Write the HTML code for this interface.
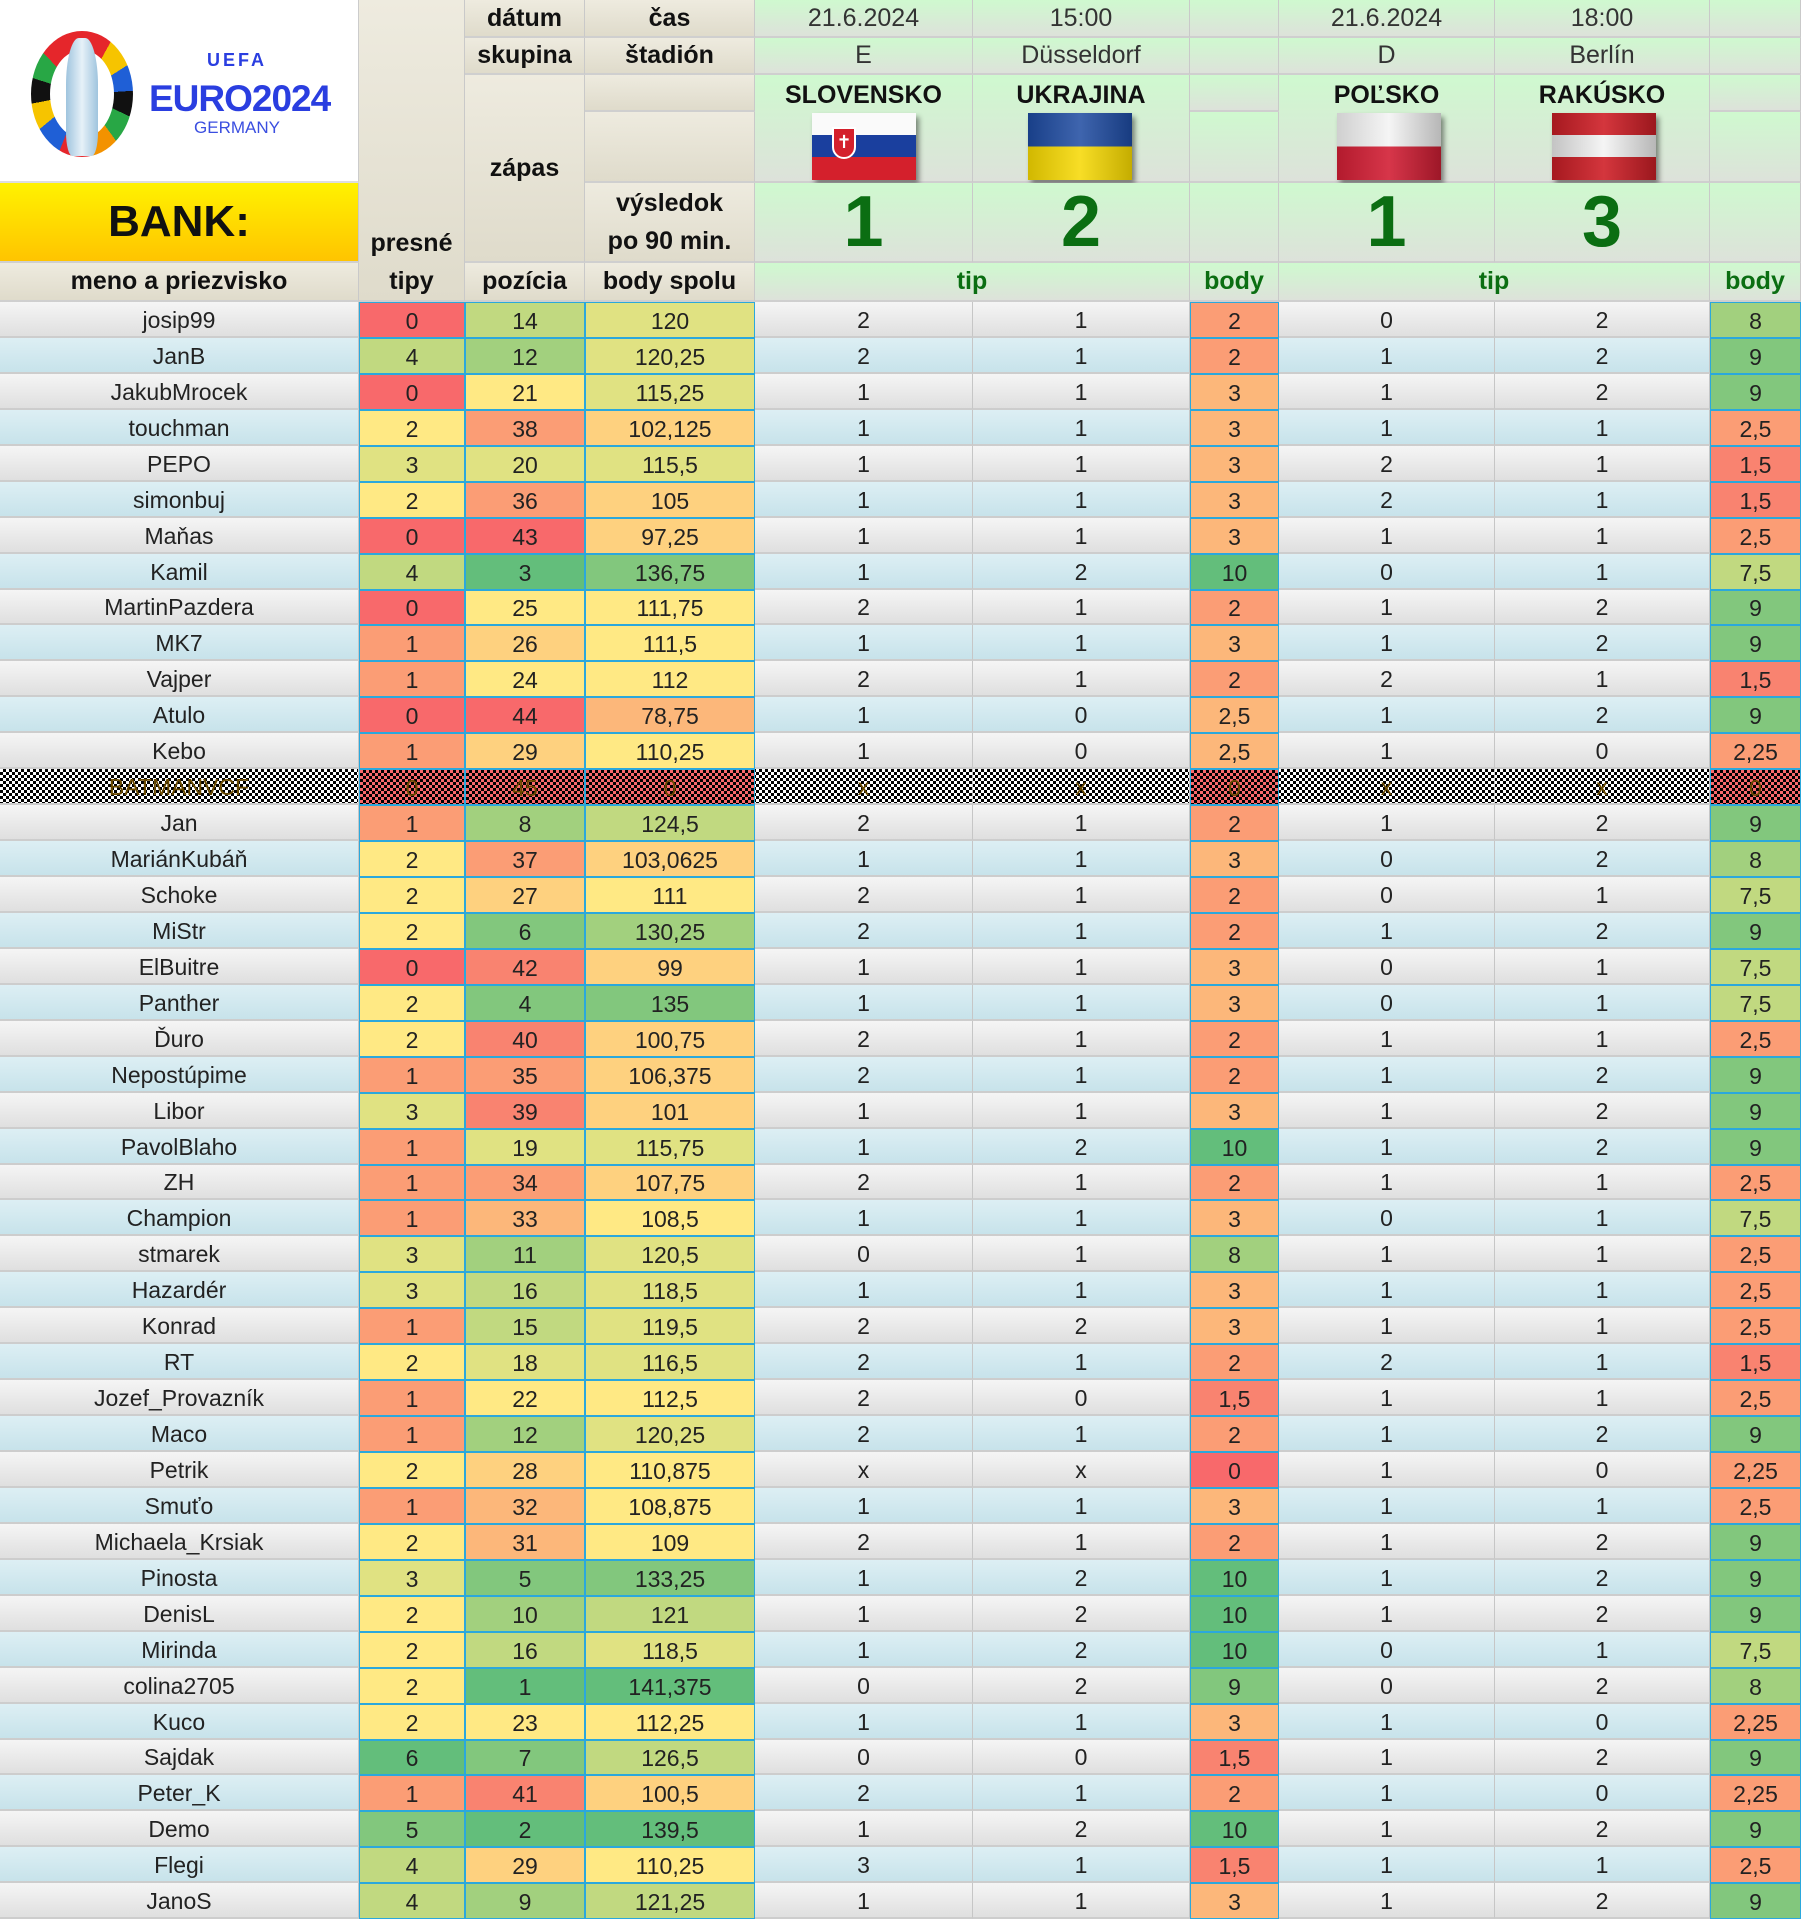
<!DOCTYPE html>
<html><head><meta charset="utf-8">
<style>
*{box-sizing:border-box;margin:0;padding:0}
body{width:1801px;height:1920px;overflow:hidden;background:#fff;font-family:"Liberation Sans Narrow","Liberation Sans",sans-serif;color:#222}
.h{position:absolute;display:flex;align-items:center;justify-content:center;text-align:center;border-right:1px solid #c9c9c9;border-bottom:2px solid #cfcfcf;font-weight:bold;font-size:25px;color:#111}
.bg{background:linear-gradient(#eeebdf,#dfdbcb)}
.gr{background:linear-gradient(#cff9cf,#dde2da)}
.nb{font-weight:normal;color:#333}
.team{align-items:flex-start;padding-top:6px;font-size:25px;color:#111}
.score{font-size:72px;color:#0b6e12}
.gt{color:#0b6e12;font-size:25px}
.flag{position:absolute;width:104px;height:67px;box-shadow:3px 4px 5px rgba(0,0,0,.45)}
#rows{position:absolute;left:0;top:302px;width:1801px}
.r{display:flex;height:35.95px}
.r>div{height:100%;display:flex;align-items:center;justify-content:center;font-size:23px;padding-top:3px;border-right:1px solid #c6c6c6;border-bottom:2px solid #cdcdcd}
.o{background:linear-gradient(#f5f5f5,#dedede)}
.e{background:linear-gradient(#ddeff4,#c6e2ea)}
.r>div:nth-child(1){width:359px}
.r>div:nth-child(2){width:106px}
.r>div:nth-child(3){width:120px}
.r>div:nth-child(4){width:170px}
.r>div:nth-child(5){width:218px}
.r>div:nth-child(6){width:217px}
.r>div:nth-child(7){width:89px}
.r>div:nth-child(8){width:216px}
.r>div:nth-child(9){width:215px}
.r>div:nth-child(10){width:91px}
.r>div.k{border:1.5px solid #2ba8dc}
.k0{background:#f8696b}.k1{background:#f98370}.k2{background:#fb9d75}.k3{background:#fcb77a}.k4{background:#fed17f}.k5{background:#ffe984}.k6{background:#e0e282}.k7{background:#c1d980}.k8{background:#a2d07e}.k9{background:#82c77d}.k10{background:#63be7b}
.hid{background:repeating-conic-gradient(#000 0 25%,#fff 0 50%) 0 0/6px 6px}
.hid>div.k{background:repeating-conic-gradient(#000 0 25%,transparent 0 50%) 0 0/6px 6px,#f8696b}
.hid>div{color:#6a4a00}
</style></head><body>

<div style="position:absolute;left:0;top:0;width:359px;height:183px;background:#fff;border-right:1px solid #ccc;border-bottom:2px solid #ddd">
  <div style="position:absolute;left:31px;top:31px;width:102px;height:126px;border-radius:50%;background:conic-gradient(#e5262b 0 8%,#f6c400 0 16%,#1f5fd6 0 24%,#111 0 32%,#28a745 0 40%,#f39200 0 48%,#e5262b 0 56%,#1f5fd6 0 64%,#f6c400 0 72%,#111 0 80%,#28a745 0 88%,#e5262b 0 100%);"></div>
  <div style="position:absolute;left:50px;top:50px;width:64px;height:88px;border-radius:50%;background:#fff"></div>
  <div style="position:absolute;left:66px;top:38px;width:32px;height:118px;border-radius:40% 40% 20% 20%;background:linear-gradient(90deg,#9fc4de,#e6f1f8,#9fc4de)"></div>
  <div style="position:absolute;left:152px;top:50px;width:170px;text-align:center;font:bold 18px 'Liberation Sans',sans-serif;color:#2a3ee0;letter-spacing:3px">UEFA</div>
  <div style="position:absolute;left:149px;top:78px;width:180px;text-align:left;font:bold 37px 'Liberation Sans Narrow','Liberation Sans',sans-serif;color:#2a3ee0;letter-spacing:-1px">EURO2024</div>
  <div style="position:absolute;left:152px;top:118px;width:170px;text-align:center;font:17px 'Liberation Sans Narrow','Liberation Sans',sans-serif;color:#3a4ee0">GERMANY</div>
</div>
<div class="h" style="left:0;top:183px;width:359px;height:80px;background:linear-gradient(#fff200,#ffc400);font-size:44px">BANK:</div>
<div class="h bg" style="left:0;top:263px;width:359px;height:39px">meno a priezvisko</div>

<div class="h bg" style="left:359px;top:0;width:106px;height:302px;flex-direction:column;justify-content:flex-end;padding-bottom:0px;line-height:38px">presné<br>tipy</div>

<div class="h bg" style="left:465px;top:0;width:120px;height:38px">dátum</div>
<div class="h bg" style="left:465px;top:38px;width:120px;height:37px">skupina</div>
<div class="h bg" style="left:465px;top:75px;width:120px;height:188px">zápas</div>
<div class="h bg" style="left:465px;top:263px;width:120px;height:39px">pozícia</div>

<div class="h bg" style="left:585px;top:0;width:170px;height:38px">čas</div>
<div class="h bg" style="left:585px;top:38px;width:170px;height:37px">štadión</div>
<div class="h bg" style="left:585px;top:75px;width:170px;height:37px"></div>
<div class="h bg" style="left:585px;top:112px;width:170px;height:71px"></div>
<div class="h bg" style="left:585px;top:183px;width:170px;height:80px;flex-direction:column;line-height:38px">výsledok<br>po 90 min.</div>
<div class="h bg" style="left:585px;top:263px;width:170px;height:39px">body spolu</div>

<div class="h gr nb" style="left:755px;top:0;width:218px;height:38px">21.6.2024</div>
<div class="h gr nb" style="left:973px;top:0;width:217px;height:38px">15:00</div>
<div class="h gr nb" style="left:1190px;top:0;width:89px;height:38px"></div>
<div class="h gr nb" style="left:1279px;top:0;width:216px;height:38px">21.6.2024</div>
<div class="h gr nb" style="left:1495px;top:0;width:215px;height:38px">18:00</div>
<div class="h gr nb" style="left:1710px;top:0;width:91px;height:38px"></div>

<div class="h gr nb" style="left:755px;top:38px;width:218px;height:37px">E</div>
<div class="h gr nb" style="left:973px;top:38px;width:217px;height:37px">Düsseldorf</div>
<div class="h gr nb" style="left:1190px;top:38px;width:89px;height:37px"></div>
<div class="h gr nb" style="left:1279px;top:38px;width:216px;height:37px">D</div>
<div class="h gr nb" style="left:1495px;top:38px;width:215px;height:37px">Berlín</div>
<div class="h gr nb" style="left:1710px;top:38px;width:91px;height:37px"></div>

<div class="h gr team" style="left:755px;top:75px;width:218px;height:108px">SLOVENSKO</div>
<div class="h gr team" style="left:973px;top:75px;width:217px;height:108px">UKRAJINA</div>
<div class="h gr" style="left:1190px;top:75px;width:89px;height:37px"></div>
<div class="h gr" style="left:1190px;top:112px;width:89px;height:71px"></div>
<div class="h gr team" style="left:1279px;top:75px;width:216px;height:108px">POĽSKO</div>
<div class="h gr team" style="left:1495px;top:75px;width:215px;height:108px">RAKÚSKO</div>
<div class="h gr" style="left:1710px;top:75px;width:91px;height:37px"></div>
<div class="h gr" style="left:1710px;top:112px;width:91px;height:71px"></div>

<div class="flag" style="left:812px;top:113px;background:linear-gradient(#fafafa 0 33%,#1a3f9e 33% 66%,#d4202c 66%)">
  <div style="position:absolute;left:20px;top:14px;width:24px;height:32px;background:#d4202c;border:2px solid #fff;border-radius:0 0 12px 12px;color:#fff;font-size:18px;line-height:26px;text-align:center">✝</div>
</div>
<div class="flag" style="left:1028px;top:113px;background:linear-gradient(90deg,rgba(0,0,0,.15),rgba(255,255,255,.15),rgba(0,0,0,.2)),linear-gradient(#1d4aa0 0 50%,#f6d800 50%)"></div>
<div class="flag" style="left:1337px;top:113px;background:linear-gradient(90deg,rgba(0,0,0,.15),rgba(255,255,255,.1),rgba(0,0,0,.25)),linear-gradient(#f4f4f4 0 50%,#d21f35 50%)"></div>
<div class="flag" style="left:1552px;top:113px;background:linear-gradient(90deg,rgba(0,0,0,.2),rgba(255,255,255,.1),rgba(0,0,0,.25)),linear-gradient(#cf1f27 0 33%,#f4f4f4 33% 66%,#cf1f27 66%)"></div>

<div class="h gr score" style="left:755px;top:183px;width:218px;height:80px">1</div>
<div class="h gr score" style="left:973px;top:183px;width:217px;height:80px">2</div>
<div class="h gr score" style="left:1190px;top:183px;width:89px;height:80px"></div>
<div class="h gr score" style="left:1279px;top:183px;width:216px;height:80px">1</div>
<div class="h gr score" style="left:1495px;top:183px;width:215px;height:80px">3</div>
<div class="h gr score" style="left:1710px;top:183px;width:91px;height:80px"></div>

<div class="h gr gt" style="left:755px;top:263px;width:435px;height:39px">tip</div>
<div class="h gr gt" style="left:1190px;top:263px;width:89px;height:39px">body</div>
<div class="h gr gt" style="left:1279px;top:263px;width:431px;height:39px">tip</div>
<div class="h gr gt" style="left:1710px;top:263px;width:91px;height:39px">body</div>

<div id="rows">
<div class="r o"><div>josip99</div><div class="k k0">0</div><div class="k k7">14</div><div class="k k6">120</div><div>2</div><div>1</div><div class="k k2">2</div><div>0</div><div>2</div><div class="k k8">8</div></div>
<div class="r e"><div>JanB</div><div class="k k7">4</div><div class="k k8">12</div><div class="k k6">120,25</div><div>2</div><div>1</div><div class="k k2">2</div><div>1</div><div>2</div><div class="k k9">9</div></div>
<div class="r o"><div>JakubMrocek</div><div class="k k0">0</div><div class="k k5">21</div><div class="k k6">115,25</div><div>1</div><div>1</div><div class="k k3">3</div><div>1</div><div>2</div><div class="k k9">9</div></div>
<div class="r e"><div>touchman</div><div class="k k5">2</div><div class="k k2">38</div><div class="k k4">102,125</div><div>1</div><div>1</div><div class="k k3">3</div><div>1</div><div>1</div><div class="k k2">2,5</div></div>
<div class="r o"><div>PEPO</div><div class="k k6">3</div><div class="k k6">20</div><div class="k k6">115,5</div><div>1</div><div>1</div><div class="k k3">3</div><div>2</div><div>1</div><div class="k k1">1,5</div></div>
<div class="r e"><div>simonbuj</div><div class="k k5">2</div><div class="k k2">36</div><div class="k k4">105</div><div>1</div><div>1</div><div class="k k3">3</div><div>2</div><div>1</div><div class="k k1">1,5</div></div>
<div class="r o"><div>Maňas</div><div class="k k0">0</div><div class="k k0">43</div><div class="k k4">97,25</div><div>1</div><div>1</div><div class="k k3">3</div><div>1</div><div>1</div><div class="k k2">2,5</div></div>
<div class="r e"><div>Kamil</div><div class="k k7">4</div><div class="k k10">3</div><div class="k k9">136,75</div><div>1</div><div>2</div><div class="k k10">10</div><div>0</div><div>1</div><div class="k k7">7,5</div></div>
<div class="r o"><div>MartinPazdera</div><div class="k k0">0</div><div class="k k5">25</div><div class="k k5">111,75</div><div>2</div><div>1</div><div class="k k2">2</div><div>1</div><div>2</div><div class="k k9">9</div></div>
<div class="r e"><div>MK7</div><div class="k k2">1</div><div class="k k4">26</div><div class="k k5">111,5</div><div>1</div><div>1</div><div class="k k3">3</div><div>1</div><div>2</div><div class="k k9">9</div></div>
<div class="r o"><div>Vajper</div><div class="k k2">1</div><div class="k k5">24</div><div class="k k5">112</div><div>2</div><div>1</div><div class="k k2">2</div><div>2</div><div>1</div><div class="k k1">1,5</div></div>
<div class="r e"><div>Atulo</div><div class="k k0">0</div><div class="k k0">44</div><div class="k k3">78,75</div><div>1</div><div>0</div><div class="k k3">2,5</div><div>1</div><div>2</div><div class="k k9">9</div></div>
<div class="r o"><div>Kebo</div><div class="k k2">1</div><div class="k k4">29</div><div class="k k5">110,25</div><div>1</div><div>0</div><div class="k k3">2,5</div><div>1</div><div>0</div><div class="k k2">2,25</div></div>
<div class="r hid"><div>BATMANVCF</div><div class="k">0</div><div class="k">45</div><div class="k">0</div><div>x</div><div>x</div><div class="k">0</div><div>x</div><div>x</div><div class="k">0</div></div>
<div class="r o"><div>Jan</div><div class="k k2">1</div><div class="k k8">8</div><div class="k k7">124,5</div><div>2</div><div>1</div><div class="k k2">2</div><div>1</div><div>2</div><div class="k k9">9</div></div>
<div class="r e"><div>MariánKubáň</div><div class="k k5">2</div><div class="k k2">37</div><div class="k k4">103,0625</div><div>1</div><div>1</div><div class="k k3">3</div><div>0</div><div>2</div><div class="k k8">8</div></div>
<div class="r o"><div>Schoke</div><div class="k k5">2</div><div class="k k4">27</div><div class="k k5">111</div><div>2</div><div>1</div><div class="k k2">2</div><div>0</div><div>1</div><div class="k k7">7,5</div></div>
<div class="r e"><div>MiStr</div><div class="k k5">2</div><div class="k k9">6</div><div class="k k8">130,25</div><div>2</div><div>1</div><div class="k k2">2</div><div>1</div><div>2</div><div class="k k9">9</div></div>
<div class="r o"><div>ElBuitre</div><div class="k k0">0</div><div class="k k1">42</div><div class="k k4">99</div><div>1</div><div>1</div><div class="k k3">3</div><div>0</div><div>1</div><div class="k k7">7,5</div></div>
<div class="r e"><div>Panther</div><div class="k k5">2</div><div class="k k9">4</div><div class="k k9">135</div><div>1</div><div>1</div><div class="k k3">3</div><div>0</div><div>1</div><div class="k k7">7,5</div></div>
<div class="r o"><div>Ďuro</div><div class="k k5">2</div><div class="k k1">40</div><div class="k k4">100,75</div><div>2</div><div>1</div><div class="k k2">2</div><div>1</div><div>1</div><div class="k k2">2,5</div></div>
<div class="r e"><div>Nepostúpime</div><div class="k k2">1</div><div class="k k2">35</div><div class="k k4">106,375</div><div>2</div><div>1</div><div class="k k2">2</div><div>1</div><div>2</div><div class="k k9">9</div></div>
<div class="r o"><div>Libor</div><div class="k k6">3</div><div class="k k1">39</div><div class="k k4">101</div><div>1</div><div>1</div><div class="k k3">3</div><div>1</div><div>2</div><div class="k k9">9</div></div>
<div class="r e"><div>PavolBlaho</div><div class="k k2">1</div><div class="k k6">19</div><div class="k k6">115,75</div><div>1</div><div>2</div><div class="k k10">10</div><div>1</div><div>2</div><div class="k k9">9</div></div>
<div class="r o"><div>ZH</div><div class="k k2">1</div><div class="k k2">34</div><div class="k k4">107,75</div><div>2</div><div>1</div><div class="k k2">2</div><div>1</div><div>1</div><div class="k k2">2,5</div></div>
<div class="r e"><div>Champion</div><div class="k k2">1</div><div class="k k3">33</div><div class="k k5">108,5</div><div>1</div><div>1</div><div class="k k3">3</div><div>0</div><div>1</div><div class="k k7">7,5</div></div>
<div class="r o"><div>stmarek</div><div class="k k6">3</div><div class="k k8">11</div><div class="k k6">120,5</div><div>0</div><div>1</div><div class="k k8">8</div><div>1</div><div>1</div><div class="k k2">2,5</div></div>
<div class="r e"><div>Hazardér</div><div class="k k6">3</div><div class="k k7">16</div><div class="k k6">118,5</div><div>1</div><div>1</div><div class="k k3">3</div><div>1</div><div>1</div><div class="k k2">2,5</div></div>
<div class="r o"><div>Konrad</div><div class="k k2">1</div><div class="k k7">15</div><div class="k k6">119,5</div><div>2</div><div>2</div><div class="k k3">3</div><div>1</div><div>1</div><div class="k k2">2,5</div></div>
<div class="r e"><div>RT</div><div class="k k5">2</div><div class="k k6">18</div><div class="k k6">116,5</div><div>2</div><div>1</div><div class="k k2">2</div><div>2</div><div>1</div><div class="k k1">1,5</div></div>
<div class="r o"><div>Jozef_Provazník</div><div class="k k2">1</div><div class="k k5">22</div><div class="k k5">112,5</div><div>2</div><div>0</div><div class="k k1">1,5</div><div>1</div><div>1</div><div class="k k2">2,5</div></div>
<div class="r e"><div>Maco</div><div class="k k2">1</div><div class="k k8">12</div><div class="k k6">120,25</div><div>2</div><div>1</div><div class="k k2">2</div><div>1</div><div>2</div><div class="k k9">9</div></div>
<div class="r o"><div>Petrik</div><div class="k k5">2</div><div class="k k4">28</div><div class="k k5">110,875</div><div>x</div><div>x</div><div class="k k0">0</div><div>1</div><div>0</div><div class="k k2">2,25</div></div>
<div class="r e"><div>Smuťo</div><div class="k k2">1</div><div class="k k3">32</div><div class="k k5">108,875</div><div>1</div><div>1</div><div class="k k3">3</div><div>1</div><div>1</div><div class="k k2">2,5</div></div>
<div class="r o"><div>Michaela_Krsiak</div><div class="k k5">2</div><div class="k k3">31</div><div class="k k5">109</div><div>2</div><div>1</div><div class="k k2">2</div><div>1</div><div>2</div><div class="k k9">9</div></div>
<div class="r e"><div>Pinosta</div><div class="k k6">3</div><div class="k k9">5</div><div class="k k9">133,25</div><div>1</div><div>2</div><div class="k k10">10</div><div>1</div><div>2</div><div class="k k9">9</div></div>
<div class="r o"><div>DenisL</div><div class="k k5">2</div><div class="k k8">10</div><div class="k k7">121</div><div>1</div><div>2</div><div class="k k10">10</div><div>1</div><div>2</div><div class="k k9">9</div></div>
<div class="r e"><div>Mirinda</div><div class="k k5">2</div><div class="k k7">16</div><div class="k k6">118,5</div><div>1</div><div>2</div><div class="k k10">10</div><div>0</div><div>1</div><div class="k k7">7,5</div></div>
<div class="r o"><div>colina2705</div><div class="k k5">2</div><div class="k k10">1</div><div class="k k10">141,375</div><div>0</div><div>2</div><div class="k k9">9</div><div>0</div><div>2</div><div class="k k8">8</div></div>
<div class="r e"><div>Kuco</div><div class="k k5">2</div><div class="k k5">23</div><div class="k k5">112,25</div><div>1</div><div>1</div><div class="k k3">3</div><div>1</div><div>0</div><div class="k k2">2,25</div></div>
<div class="r o"><div>Sajdak</div><div class="k k10">6</div><div class="k k9">7</div><div class="k k7">126,5</div><div>0</div><div>0</div><div class="k k1">1,5</div><div>1</div><div>2</div><div class="k k9">9</div></div>
<div class="r e"><div>Peter_K</div><div class="k k2">1</div><div class="k k1">41</div><div class="k k4">100,5</div><div>2</div><div>1</div><div class="k k2">2</div><div>1</div><div>0</div><div class="k k2">2,25</div></div>
<div class="r o"><div>Demo</div><div class="k k9">5</div><div class="k k10">2</div><div class="k k10">139,5</div><div>1</div><div>2</div><div class="k k10">10</div><div>1</div><div>2</div><div class="k k9">9</div></div>
<div class="r e"><div>Flegi</div><div class="k k7">4</div><div class="k k4">29</div><div class="k k5">110,25</div><div>3</div><div>1</div><div class="k k1">1,5</div><div>1</div><div>1</div><div class="k k2">2,5</div></div>
<div class="r o"><div>JanoS</div><div class="k k7">4</div><div class="k k8">9</div><div class="k k7">121,25</div><div>1</div><div>1</div><div class="k k3">3</div><div>1</div><div>2</div><div class="k k9">9</div></div>
</div>
</body></html>
